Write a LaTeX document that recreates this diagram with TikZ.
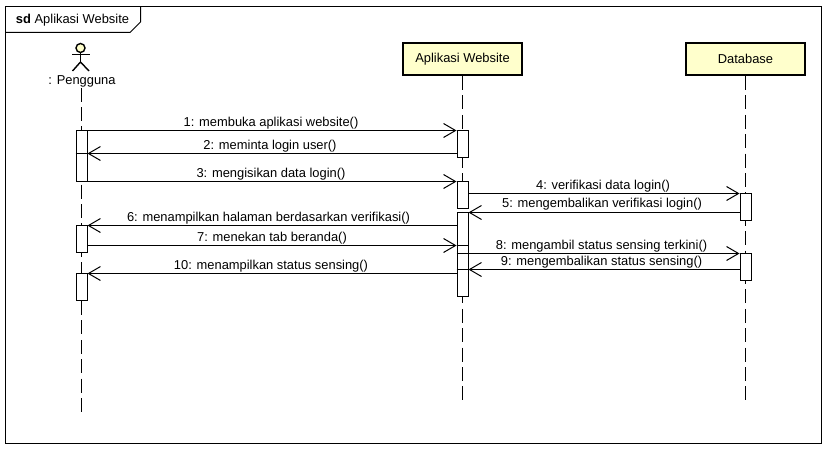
\documentclass[tikz,border=0pt]{standalone}
\usepackage{fontspec}
\setmainfont{Liberation Sans}
\usetikzlibrary{arrows.meta}
\definecolor{lifebox}{HTML}{FFFFCC}
\tikzset{
  labelfont/.style={font=\fontsize{12.9}{15}\selectfont},
  frameline/.style={draw=black,line width=1pt},
  objbox/.style={draw=black,line width=2pt,fill=lifebox,minimum width=119pt,minimum height=32pt,inner sep=0pt,labelfont},
  actbox/.style={draw=black,line width=1pt,fill=white,minimum width=11pt,inner sep=0pt},
  lifeline/.style={line width=1pt,dash pattern=on 14pt off 5.4pt},
  msgline/.style={line width=1pt,-{Straight Barb[length=12pt,width=14pt,line width=1pt]}},
  msglabel/.style={above,midway,inner sep=0pt,yshift=1pt,text height=9.5pt,text depth=3pt,labelfont}
}
\begin{document}
\begin{tikzpicture}[x=1pt,y=-1pt]
  \useasboundingbox (0,0) rectangle (826,452);

  % Frame
  \node[frameline,minimum width=816pt,minimum height=437pt,inner sep=0pt] (frame) at (413.5,225) {};
  \coordinate (tabA) at (140.5,6.5);
  \coordinate (tabB) at (140.5,22);
  \coordinate (tabC) at (130,32.5);
  \coordinate (tabD) at (5,32.5);
  \draw[frameline] (tabA) -- (tabB) -- (tabC) -- (tabD);
  \node[inner sep=0pt,labelfont] (title) at (72.5,20) {\textbf{sd} Aplikasi Website};

  % Actor
  \node[circle,draw=black,line width=1.4pt,fill=lifebox,minimum size=9pt,inner sep=0pt] (head) at (80.5,48) {};
  \coordinate (hip) at (80.5,62);
  \coordinate (armL) at (72,54.5);
  \coordinate (armR) at (89.5,54.5);
  \coordinate (legL) at (72.5,71);
  \coordinate (legR) at (89,71);
  \draw[line width=1.4pt] (head.south) -- (hip);
  \draw[line width=1.4pt] (armL) -- (armR);
  \draw[line width=1.4pt] (legL) -- (hip) -- (legR);
  \node[inner sep=0pt,labelfont] (pengguna) at (82,81) {: Pengguna};

  % Objects
  \node[objbox] (website) at (462.5,59) {Aplikasi Website};
  \node[objbox] (database) at (745.5,59) {Database};

  % Lifelines
  \coordinate (topP) at (81.5,87.6);
  \coordinate (endP) at (81.5,412);
  \coordinate (endW) at (462.5,401);
  \coordinate (endD) at (745.5,401);
  \draw[lifeline] (topP) -- (endP);
  \draw[lifeline] (website.south -| endW) -- (endW);
  \draw[lifeline] (database.south -| endD) -- (endD);

  % Activations
  \node[actbox,minimum height=51pt] (actP1) at (81.5,156) {};
  \node[actbox,minimum height=27pt] (actP2) at (81.5,239) {};
  \node[actbox,minimum height=27pt] (actP3) at (81.5,287) {};
  \node[actbox,minimum height=27pt] (actW1) at (462.5,144) {};
  \node[actbox,minimum height=27pt] (actW2) at (462.5,195) {};
  \node[actbox,minimum height=84pt] (actW3) at (462.5,254.5) {};
  \node[actbox,minimum height=27pt] (actD1) at (745.5,207) {};
  \node[actbox,minimum height=27pt] (actD2) at (745.5,267) {};

  % Message levels
  \foreach \n/\y in {1/130.5,2/153.5,3/181.5,4/193.5,5/212.5,6/225.5,7/245.5,8/253.5,9/269.5,10/273.5}
    \coordinate (lev\n) at (0,\y);

  % Messages
  \draw[msgline] (actP1.east |- lev1) -- node[msglabel,xshift=-1pt] (msg1) {1: membuka aplikasi website()} (actW1.west |- lev1);
  \draw[msgline] (actW1.west |- lev2) -- node[msglabel,xshift=-2pt] (msg2) {2: meminta login user()} (actP1.east |- lev2);
  \draw[line width=1pt] (actP1.west |- lev2) -- (actP1.east |- lev2);
  \draw[msgline] (actP1.east |- lev3) -- node[msglabel,xshift=-1pt] (msg3) {3: mengisikan data login()} (actW2.west |- lev3);
  \draw[msgline] (actW2.east |- lev4) -- node[msglabel,xshift=-1pt] (msg4) {4: verifikasi data login()} (actD1.west |- lev4);
  \draw[msgline] (actD1.west |- lev5) -- node[msglabel,xshift=-2pt,yshift=0.5pt] (msg5) {5: mengembalikan verifikasi login()} (actW3.east |- lev5);
  \draw[msgline] (actW3.west |- lev6) -- node[msglabel,xshift=-3.5pt] (msg6) {6: menampilkan halaman berdasarkan verifikasi()} (actP2.east |- lev6);
  \draw[msgline] (actP2.east |- lev7) -- node[msglabel] (msg7) {7: menekan tab beranda()} (actW3.west |- lev7);
  \draw[line width=1pt] (actW3.west |- lev7) -- (actW3.east |- lev7);
  \draw[msgline] (actW3.west |- lev8) -- node[msglabel,xshift=3.5pt] (msg8) {8: mengambil status sensing terkini()} (actD2.west |- lev8);
  \draw[msgline] (actD2.west |- lev9) -- node[msglabel,xshift=-2.5pt] (msg9) {9: mengembalikan status sensing()} (actW3.east |- lev9);
  \draw[line width=1pt] (actW3.west |- lev9) -- (actW3.east |- lev9);
  \draw[msgline] (actW3.west |- lev10) -- node[msglabel,xshift=-1pt] (msg10) {10: menampilkan status sensing()} (actP3.east |- lev10);
\end{tikzpicture}
\end{document}
